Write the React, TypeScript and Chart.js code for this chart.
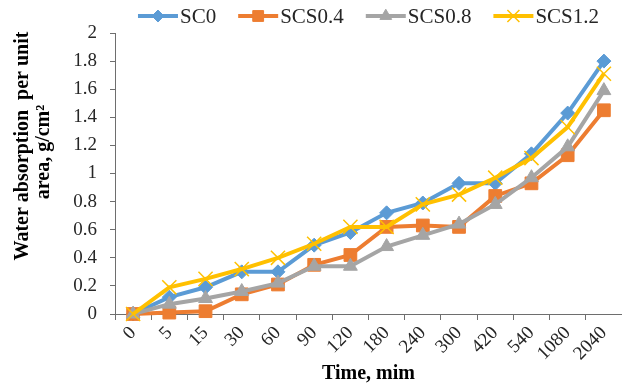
import React, { useEffect, useRef } from "react";
import { Chart, registerables } from "chart.js";
import { drawPoint } from "chart.js/helpers";

Chart.register(...registerables);

const categories = ["0", "5", "15", "30", "60", "90", "120", "180", "240", "300", "420", "540", "1080", "2040"];
const sc0 = [0, 0.12, 0.19, 0.3, 0.3, 0.49, 0.58, 0.72, 0.79, 0.93, 0.93, 1.14, 1.43, 1.8];
const scs04 = [0, 0.01, 0.02, 0.14, 0.21, 0.35, 0.42, 0.62, 0.63, 0.62, 0.84, 0.93, 1.13, 1.45];
const scs08 = [0, 0.07, 0.11, 0.16, 0.22, 0.34, 0.34, 0.48, 0.56, 0.64, 0.78, 0.97, 1.19, 1.59];
const scs12 = [0, 0.19, 0.25, 0.32, 0.4, 0.5, 0.62, 0.62, 0.78, 0.85, 0.97, 1.11, 1.33, 1.71];
const seriesNames = ["SC0", "SCS0.4", "SCS0.8", "SCS1.2"];
const yTitleLines = ["Water absorption  per unit", "area, g/cm\u00B2"];
const xTitle = "Time, mim";

const FAMILY = '"Liberation Serif", "Times New Roman", serif';
const AXIS = "#6e6e6e";
const TXT = "#262626";

const legendPlugin = {
  id: "customLegend",
  afterDraw(chart: any) {
    const ctx = chart.ctx;
    ctx.save();
    ctx.font = `21px ${FAMILY}`;
    ctx.textBaseline = "middle";
    ctx.textAlign = "left";
    const lineLen = 40;
    const gapText = 2;
    const gapItem = 22;
    const items = chart.data.datasets.map((ds: any) => ({ ds, w: ctx.measureText(ds.label).width }));
    const total =
      items.reduce((s: number, it: any) => s + lineLen + gapText + it.w, 0) + gapItem * (items.length - 1);
    let x = (chart.chartArea.left + chart.chartArea.right) / 2 - total / 2;
    const y = 16;
    items.forEach(({ ds, w }: any) => {
      ctx.strokeStyle = ds.borderColor;
      ctx.lineWidth = 4;
      ctx.beginPath();
      ctx.moveTo(x, y);
      ctx.lineTo(x + lineLen, y);
      ctx.stroke();
      ctx.fillStyle = ds.pointBackgroundColor;
      ctx.strokeStyle = ds.pointBorderColor;
      ctx.lineWidth = ds.pointBorderWidth;
      drawPoint(ctx, { pointStyle: ds.pointStyle, radius: ds.pointRadius * 0.85, rotation: 0, borderWidth: ds.pointBorderWidth }, x + lineLen / 2, y);
      ctx.fillStyle = TXT;
      ctx.fillText(ds.label, x + lineLen + gapText, y + 1);
      x += lineLen + gapText + w + gapItem;
    });
    ctx.restore();
  },
};

const yTitlePlugin = {
  id: "yTitle",
  afterDraw(chart: any) {
    const ctx = chart.ctx;
    ctx.save();
    ctx.font = `bold 20px ${FAMILY}`;
    ctx.fillStyle = "#000";
    ctx.textAlign = "center";
    ctx.textBaseline = "middle";
    const xs = [23, 44];
    const ys = [146, 152];
    yTitleLines.forEach((t, i) => {
      ctx.save();
      ctx.translate(xs[i], ys[i]);
      ctx.rotate(-Math.PI / 2);
      ctx.fillText(t, 0, 0);
      ctx.restore();
    });
    ctx.restore();
  },
};

function mk(label: string, data: number[], color: string, style: string, radius: number, bw: number, fill: string, order: number) {
  return {
    label,
    data,
    borderColor: color,
    backgroundColor: color,
    borderWidth: 4,
    pointStyle: style,
    pointRadius: radius,
    pointBackgroundColor: fill,
    pointBorderColor: color,
    pointBorderWidth: bw,
    tension: 0,
    clip: false,
    order,
  };
}

export default function App() {
  const ref = useRef<HTMLCanvasElement | null>(null);
  useEffect(() => {
    if (!ref.current) return;
    const chart = new Chart(ref.current, {
      type: "line",
      data: {
        labels: categories,
        datasets: [
          mk(seriesNames[0], sc0, "#5B9BD5", "rectRot", 7, 1, "#5B9BD5", 4),
          mk(seriesNames[1], scs04, "#ED7D31", "rect", 9, 1, "#ED7D31", 3),
          mk(seriesNames[2], scs08, "#A5A5A5", "triangle", 8, 1, "#A5A5A5", 2),
          mk(seriesNames[3], scs12, "#FFC000", "crossRot", 10, 1.5, "#FFC000", 1),
        ] as any,
      },
      options: {
        responsive: false,
        animation: false,
        devicePixelRatio: 1,
        layout: { autoPadding: false, padding: { top: 33, left: 0, right: 0, bottom: 0 } },
        plugins: { legend: { display: false }, tooltip: { enabled: false } },
        scales: {
          x: {
            type: "category",
            offset: true,
            grid: { display: true, drawOnChartArea: false, drawTicks: true, tickLength: 6, offset: true, color: AXIS },
            border: { color: AXIS, width: 1 },
            ticks: {
              color: TXT,
              font: { family: FAMILY, size: 19 },
              maxRotation: 45,
              minRotation: 45,
              padding: 2,
              autoSkip: false,
            },
            title: {
              display: true,
              text: xTitle,
              color: "#000",
              font: { family: FAMILY, size: 20, weight: "bold" },
              padding: { top: 0, bottom: 1 },
            },
            afterFit: (s: any) => {
              s.height = 73;
              s.paddingLeft = 0;
              s.paddingRight = 0;
            },
          },
          y: {
            min: 0,
            max: 2,
            grid: { display: true, drawOnChartArea: false, drawTicks: true, tickLength: 5, color: AXIS },
            border: { color: AXIS, width: 1 },
            ticks: {
              stepSize: 0.2,
              color: TXT,
              font: { family: FAMILY, size: 19 },
              padding: 13,
              callback: (v: any) => String(Math.round(Number(v) * 10) / 10),
            },
            afterFit: (s: any) => {
              s.width = 115;
            },
          },
        },
      } as any,
      plugins: [legendPlugin, yTitlePlugin],
    });
    return () => chart.destroy();
  }, []);
  return (
    <div style={{ position: "absolute", left: 0, top: 0, width: 622, height: 387, background: "#fff" }}>
      <canvas ref={ref} width={622} height={387} style={{ width: 622, height: 387 }} />
    </div>
  );
}
